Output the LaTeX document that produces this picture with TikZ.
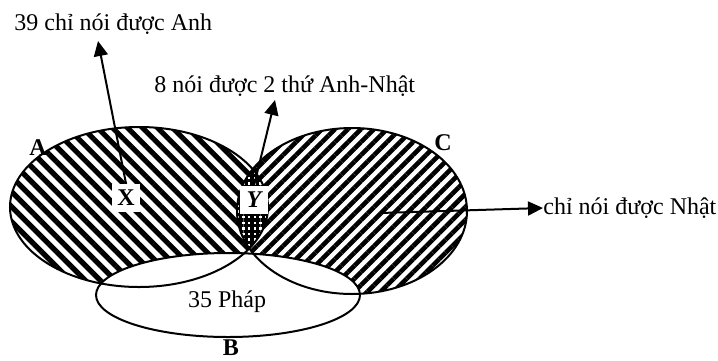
\documentclass[tikz,border=0pt]{standalone}
\usepackage{fontspec}
\setmainfont{Liberation Serif}
\usetikzlibrary{patterns.meta,arrows.meta}
\definecolor{vennink}{HTML}{000000}
\newcommand{\vennsize}{\fontsize{12}{14.4}\selectfont}

\begin{document}
\begin{tikzpicture}[x=0.5pt,y=-0.5pt,
  point/.style={coordinate},
  setname/.style={text=vennink, font=\vennsize\bfseries, inner sep=0pt},
  txt/.style={text=vennink, font=\vennsize, inner sep=0pt},
  tagbox/.style={fill=white, text=vennink, inner sep=0pt, minimum size=14pt, font=\vennsize\bfseries},
  outline/.style={draw=vennink, line width=1pt},
  pointer/.style={draw=vennink, line width=1pt, -{Triangle[length=7.5pt,width=7pt]}}]
\useasboundingbox (0,0) rectangle (718,360);
\node[point] (cA) at (139,207) {};
\node[point] (cC) at (352,211) {};
\node[point] (cB) at (228,295) {};
\node[point] (tX) at (98,41) {};
\node[point] (tY) at (275,100) {};
\node[point] (sC) at (380,213) {};
% hatched sets
\fill[pattern={Lines[angle=-45,distance=5.3pt,line width=2.6pt]}, pattern color=vennink]
  (cA) ellipse [x radius=129, y radius=80];
\fill[pattern={Lines[angle=45,distance=4.6pt,line width=2.3pt]}, pattern color=vennink]
  (cC) ellipse [x radius=115, y radius=83];
\begin{scope}
\clip (cA) ellipse [x radius=129, y radius=80];
\fill[white] (cC) ellipse [x radius=115, y radius=83];
\fill[pattern={Hatch[distance=2.8pt,line width=1.6pt]}, pattern color=vennink]
  (cC) ellipse [x radius=115, y radius=83];
\end{scope}
\fill[white] (cB) ellipse [x radius=132, y radius=42];
% outlines
\path[outline] (cA) ellipse [x radius=129, y radius=80];
\path[outline] (cC) ellipse [x radius=115, y radius=83];
\path[outline] (cB) ellipse [x radius=132, y radius=42];
% texts
\node[setname] (labA) at (38,148) {A};
\node[setname] (labC) at (443,143) {C};
\node[setname] (labB) at (231,348) {B};
\node[txt] (phap) at (227,302) {35 Pháp};
\node[tagbox] (X) at (126,198) {X};
\node[tagbox, font=\vennsize\bfseries\itshape] (Y) at (254,200) {Y};
\node[txt, anchor=west] (anh) at (14,24) {39 chỉ nói được Anh};
\node[txt, anchor=west] (anhnhat) at (154,86) {8 nói được 2 thứ Anh-Nhật};
\node[txt, anchor=west] (nhat) at (543,208) {chỉ nói được Nhật};
% arrows
\draw[pointer] (X.north) -- (tX);
\draw[pointer] (Y.north) -- (tY);
\draw[pointer] (sC) -- (nhat.west);
\end{tikzpicture}
\end{document}
